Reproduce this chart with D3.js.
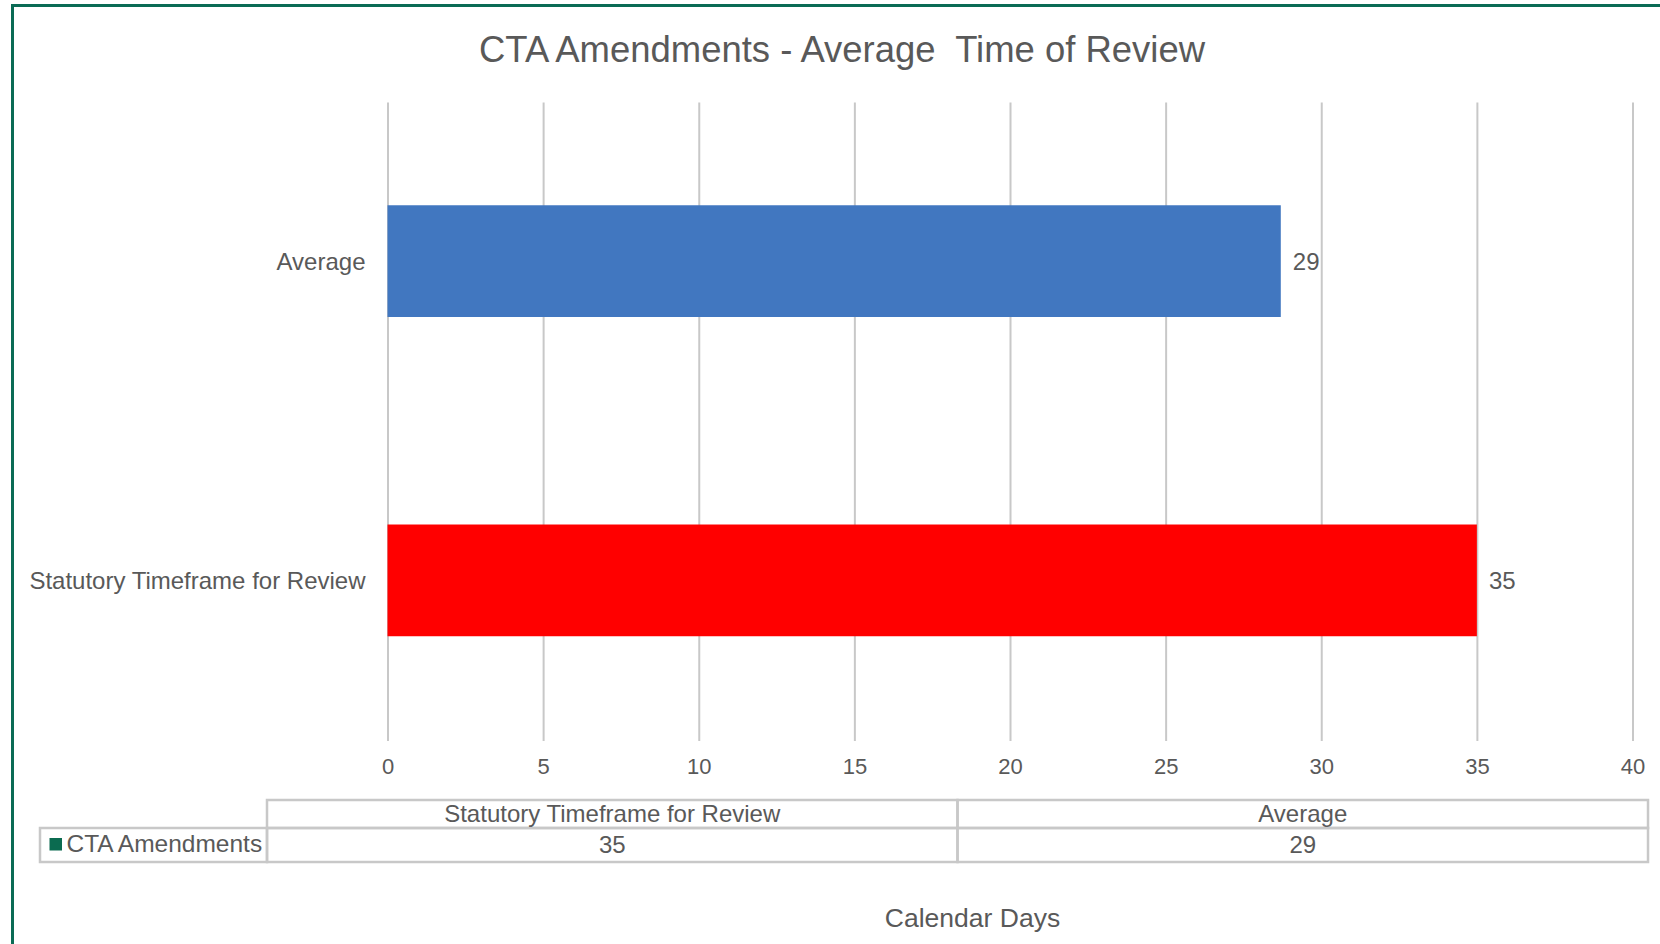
<!DOCTYPE html>
<html>
<head>
<meta charset="utf-8">
<title>CTA Amendments - Average Time of Review</title>
<script src="https://cdn.jsdelivr.net/npm/d3@7"></script>
<style>
    body { margin: 0; background: #fff; }
    svg { display: block; font-family: "Liberation Sans", Arial, sans-serif; }
    text { fill: #595959; }
</style>
</head>
<body>
<div id="chart"></div>
<script>
/* Data (category order as in the data table, first one is drawn at the bottom) */
var SERIES_NAME = "CTA Amendments";
var CATEGORIES  = ["Statutory Timeframe for Review", "Average"];
var VALUES      = [35, 28.7];
var X_TICKS     = [0, 5, 10, 15, 20, 25, 30, 35, 40];
var TITLE       = "CTA Amendments - Average  Time of Review";
var X_TITLE     = "Calendar Days";

/* Styles */
var TEXT_COLOR  = "#595959",
    GRID_COLOR  = "#c8c8c8",
    TABLE_COLOR = "#c8c8c8",
    FRAME_COLOR = "#0b6b55",
    KEY_COLOR   = "#0b6b50";
var color = d3.scaleOrdinal()
    .domain(CATEGORIES)
    .range(["#ff0000", "#4177c0"]);

var width = 1660,
    height = 944,
    plot = {left: 387.5, right: 1632.5, top: 102.5, bottom: 741};

var svg = d3.select("#chart")
    .append("svg")
        .attr("width", width)
        .attr("height", height);

/* Outer frame (only the left and top edges fall inside the picture) */
svg.append("rect")
    .attr("x", 12.5)
    .attr("y", 5.5)
    .attr("width", 1700)
    .attr("height", 1000)
    .attr("fill", "none")
    .attr("stroke", FRAME_COLOR)
    .attr("stroke-width", 3);

/* Title */
svg.append("text")
    .attr("x", 842)
    .attr("y", 61.5)
    .attr("text-anchor", "middle")
    .attr("textLength", 726)
    .attr("lengthAdjust", "spacingAndGlyphs")
    .style("white-space", "pre")
    .style("font-size", "36.5px")
    .text(TITLE);

/* Scales */
var x = d3.scaleLinear()
    .domain([X_TICKS[0], X_TICKS[X_TICKS.length - 1]])
    .range([plot.left, plot.right]);
var y = d3.scaleBand()
    .domain(CATEGORIES.slice().reverse()) // first category at the bottom, like Excel
    .range([plot.top - 1, plot.bottom - 1])
    .paddingInner(0.65)
    .paddingOuter(0.325);

/* Gridlines */
var grid = svg.append("g")
    .attr("class", "grid")
    .attr("transform", "translate(0," + plot.bottom + ")")
    .call(d3.axisBottom(x)
        .tickValues(X_TICKS)
        .tickSize(-(plot.bottom - plot.top))
        .tickFormat(""));
grid.select(".domain").remove();
grid.selectAll("line")
    .attr("stroke", GRID_COLOR)
    .attr("stroke-width", 2);

/* X axis labels */
var xAxis = svg.append("g")
    .attr("class", "x-axis")
    .attr("transform", "translate(0," + plot.bottom + ")")
    .call(d3.axisBottom(x).tickValues(X_TICKS).tickSize(0));
xAxis.select(".domain").remove();
xAxis.selectAll("text")
    .attr("y", 33.3)
    .attr("dy", null)
    .attr("fill", TEXT_COLOR)
    .style("font-size", "22px")
    .style("font-family", "'Liberation Sans', Arial, sans-serif");

/* Category labels */
var yAxis = svg.append("g")
    .attr("class", "y-axis")
    .attr("transform", "translate(365.5,0)")
    .call(d3.axisLeft(y).tickSize(0).tickPadding(0));
yAxis.select(".domain").remove();
yAxis.selectAll("text")
    .attr("dy", "0.36em")
    .attr("fill", TEXT_COLOR)
    .style("font-size", "24px")
    .style("font-family", "'Liberation Sans', Arial, sans-serif");

/* Bars */
var data = CATEGORIES.map(function(c, i){ return {name: c, value: VALUES[i]}; });
svg.selectAll(".bar")
    .data(data)
    .enter()
    .append("rect")
        .attr("class", "bar")
        .attr("x", x(0))
        .attr("y", function(d){ return y(d.name); })
        .attr("width", function(d){ return x(d.value) - x(0); })
        .attr("height", y.bandwidth())
        .attr("fill", function(d){ return color(d.name); });

/* Value labels */
var fmt = d3.format(".0f");
svg.selectAll(".value")
    .data(data)
    .enter()
    .append("text")
        .attr("class", "value")
        .attr("x", function(d){ return x(d.value) + 12; })
        .attr("y", function(d){ return y(d.name) + y.bandwidth() / 2; })
        .attr("dy", "0.36em")
        .style("font-size", "24px")
        .text(function(d){ return fmt(d.value); });

/* Data table under the axis */
var col = d3.scaleBand()
    .domain(CATEGORIES)
    .range([267, 1648]);
var table = svg.append("g").attr("class", "table");
var headTop = 800, rowTop = 828, rowBottom = 862, keyLeft = 40;

table.selectAll(".head-cell")
    .data(data)
    .enter()
    .append("rect")
        .attr("x", function(d){ return col(d.name); })
        .attr("y", headTop)
        .attr("width", col.bandwidth())
        .attr("height", rowTop - headTop);
table.selectAll(".row-cell")
    .data(data)
    .enter()
    .append("rect")
        .attr("x", function(d){ return col(d.name); })
        .attr("y", rowTop)
        .attr("width", col.bandwidth())
        .attr("height", rowBottom - rowTop);
table.append("rect")
    .attr("x", keyLeft)
    .attr("y", rowTop)
    .attr("width", col.range()[0] - keyLeft)
    .attr("height", rowBottom - rowTop);
table.selectAll("rect")
    .attr("fill", "none")
    .attr("stroke", TABLE_COLOR)
    .attr("stroke-width", 2.5);

table.selectAll(".head-text")
    .data(data)
    .enter()
    .append("text")
        .attr("x", function(d){ return col(d.name) + col.bandwidth() / 2; })
        .attr("y", (headTop + rowTop) / 2 - 1)
        .attr("dy", "0.36em")
        .attr("text-anchor", "middle")
        .style("font-size", "24px")
        .text(function(d){ return d.name; });
table.selectAll(".row-text")
    .data(data)
    .enter()
    .append("text")
        .attr("x", function(d){ return col(d.name) + col.bandwidth() / 2; })
        .attr("y", (rowTop + rowBottom) / 2 - 1)
        .attr("dy", "0.36em")
        .attr("text-anchor", "middle")
        .style("font-size", "24px")
        .text(function(d){ return fmt(d.value); });

// legend key for the series
table.append("rect")
    .attr("x", 49.5)
    .attr("y", 838)
    .attr("width", 12.5)
    .attr("height", 12.5)
    .attr("fill", KEY_COLOR);
table.append("text")
    .attr("x", 66.5)
    .attr("y", 851.7)
    .style("font-size", "24.5px")
    .text(SERIES_NAME);

/* Axis title */
svg.append("text")
    .attr("x", 972.5)
    .attr("y", 927)
    .attr("text-anchor", "middle")
    .style("font-size", "26.5px")
    .text(X_TITLE);
</script>
</body>
</html>
